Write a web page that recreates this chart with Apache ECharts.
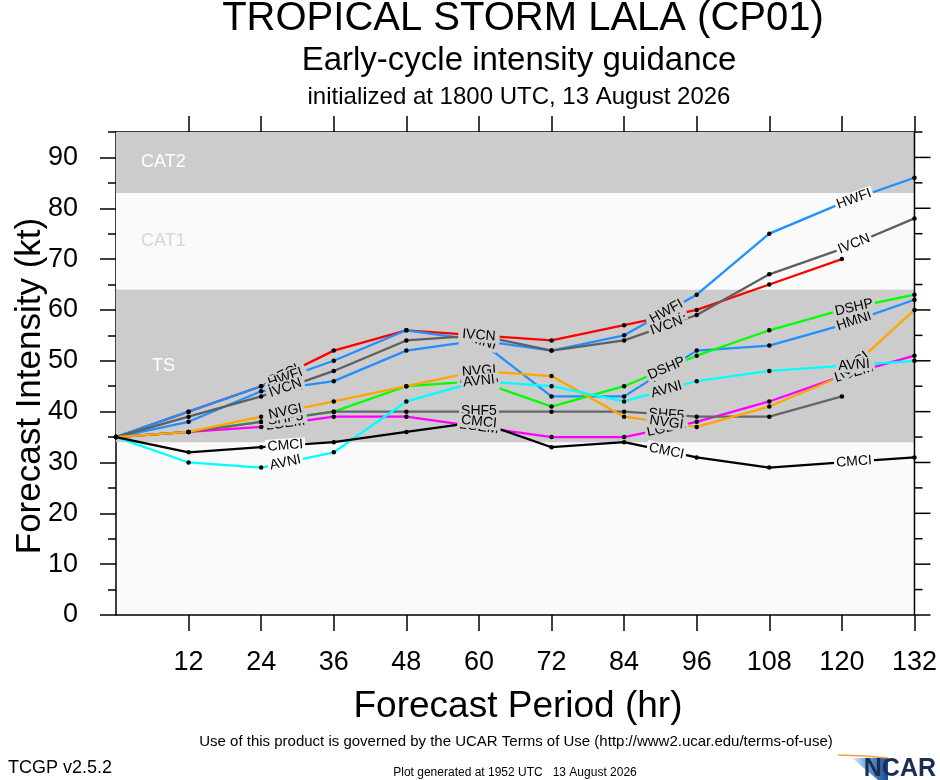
<!DOCTYPE html>
<html><head><meta charset="utf-8">
<script src="https://cdn.jsdelivr.net/npm/echarts@6/dist/echarts.min.js"></script>
<style>html,body{margin:0;padding:0;background:#fff;overflow:hidden}#c{width:940px;height:780px}</style>
</head><body><div id="c"></div>
<script>
// ---- data ----
const HOURS = [0,12,24,36,48,60,72,84,96,108,120,132];
const OFCL = [35,40,45,52,56,55,54,57,60,65,70,null];
const HWFI = [35,40,45,50,56,54,52,55,63,75,81,86];
const HMNI = [35,38,44,46,52,54,43,43,52,53,57,62];
const IVCN = [35,39,43,48,54,55,52,54,59,67,72,78];
const DSHP = [35,36,38,40,45,46,41,45,51,56,60,63];
const LGEM = [35,36,37,39,39,37,35,35,38,42,47,51];
const SHF5 = [35,36,38,40,40,40,40,40,39,39,43,null];
const NVGI = [35,36,39,42,45,48,47,39,37,41,47,60];
const AVNI = [35,30,29,32,42,46,45,42,46,48,49,50];
const CMCI = [35,32,33,34,36,38,33,34,31,29,30,31];
const X_TICKS = [12,24,36,48,60,72,84,96,108,120,132];
const Y_TICKS = [0,10,20,30,40,50,60,70,80,90];
const Y_MAX = 95;
const X_MAX = 132;
const TS_MIN = 34, CAT1_MIN = 64, CAT2_MIN = 83;
const LABEL_HOURS = [28,60,91,122];

// ---- style ----
const FONT = "'Liberation Sans', Arial, Helvetica, sans-serif";
const MODELS = [
  {name:'OFCL', data:OFCL, color:'#ff0000'},
  {name:'HWFI', data:HWFI, color:'#1e90ff'},
  {name:'HMNI', data:HMNI, color:'#1e90ff'},
  {name:'IVCN', data:IVCN, color:'#5f5f5f'},
  {name:'DSHP', data:DSHP, color:'#00ff00'},
  {name:'LGEM', data:LGEM, color:'#ff00ff'},
  {name:'SHF5', data:SHF5, color:'#666666'},
  {name:'NVGI', data:NVGI, color:'#ffa500'},
  {name:'AVNI', data:AVNI, color:'#00ffff'},
  {name:'CMCI', data:CMCI, color:'#000000'}
];

function interp(arr, h){
  for (let i=0;i<HOURS.length-1;i++){
    if (h>=HOURS[i] && h<=HOURS[i+1]){
      const a=arr[i], b=arr[i+1];
      if (a==null||b==null) return null;
      return a+(b-a)*(h-HOURS[i])/(HOURS[i+1]-HOURS[i]);
    }
  }
  return null;
}
function lastHour(arr){ let l=0; arr.forEach((v,i)=>{ if(v!=null) l=HOURS[i]; }); return l; }
function bandColor(v){ return ((v>=TS_MIN && v<CAT1_MIN) || v>=CAT2_MIN) ? '#cccccc' : '#fafafa'; }

const chart = echarts.init(document.getElementById('c'));
const axisLineStyle = {color:'#000', width:1.5};
const noText = () => '';
function xAx(pos, labels){
  return {type:'value', min:0, max:X_MAX, interval:12, position:pos, gridIndex:0,
    axisLine:{show:true, onZero:false, lineStyle:axisLineStyle},
    axisTick:{show:true, inside:false, length:16, customValues:X_TICKS, lineStyle:axisLineStyle},
    axisLabel:labels ? {show:true, customValues:X_TICKS, fontSize:27, margin:34, color:'#000', fontFamily:FONT}
                     : {show:true, customValues:X_TICKS, formatter:noText},
    splitLine:{show:false}};
}
const yAxes = [
  {type:'value', min:0, max:Y_MAX, interval:10, position:'left',
    axisLine:{show:true, onZero:false, lineStyle:axisLineStyle},
    axisTick:{show:true, inside:false, length:16, customValues:Y_TICKS, lineStyle:axisLineStyle},
    axisLabel:{show:true, customValues:Y_TICKS, fontSize:27, margin:38, color:'#000', fontFamily:FONT},
    splitLine:{show:false}},
  {type:'value', min:0, max:Y_MAX, interval:5, position:'left',
    axisLine:{show:false, onZero:false}, axisTick:{show:true, inside:false, length:8, lineStyle:axisLineStyle},
    axisLabel:{show:true, formatter:noText}, splitLine:{show:false}}
];

const bandLabel = {show:true, position:'insideLeft', color:'#ffffff', fontSize:18, fontFamily:FONT};

const lineSeries = MODELS.map((m, idx) => {
  const s = {
    type:'line', name:m.name, xAxisIndex:0, yAxisIndex:0, silent:true,
    data: HOURS.map((h,i)=>[h, m.data[i]]).filter(p=>p[1]!=null),
    symbol:'circle', symbolSize:4.5, showSymbol:true, showAllSymbol:true,
    itemStyle:{color:'#000'}, lineStyle:{color:m.color, width:2.3}, z:2
  };
  if (idx===0) {
    s.markArea = {silent:true, z:1, data:[
      [{yAxis:TS_MIN, name:'TS', itemStyle:{color:'#cccccc'}, label:Object.assign({}, bandLabel, {distance:36})}, {yAxis:CAT1_MIN}],
      [{yAxis:CAT1_MIN, name:'CAT1', itemStyle:{color:'#fafafa'}, label:Object.assign({}, bandLabel, {distance:25, color:'#d6d6d6'})}, {yAxis:CAT2_MIN}],
      [{yAxis:CAT2_MIN, name:'CAT2', itemStyle:{color:'#cccccc'}, label:Object.assign({}, bandLabel, {distance:25})}, {yAxis:Y_MAX}]
    ]};
  }
  return s;
});

const staticGraphic = [
  {type:'text', silent:true, style:{text:'TROPICAL STORM LALA (CP01)', x:523, y:19, align:'center', verticalAlign:'middle', textAlign:'center', textVerticalAlign:'middle', fill:'#000', fontSize:40, fontFamily:FONT}},
  {type:'text', silent:true, style:{text:'Early-cycle intensity guidance', x:519, y:61, align:'center', verticalAlign:'middle', textAlign:'center', textVerticalAlign:'middle', fill:'#000', fontSize:33, fontFamily:FONT}},
  {type:'text', silent:true, style:{text:'initialized at 1800 UTC, 13 August 2026', x:519, y:97, align:'center', verticalAlign:'middle', textAlign:'center', textVerticalAlign:'middle', fill:'#000', fontSize:24, fontFamily:FONT}},
  {type:'text', silent:true, style:{text:'Forecast Period (hr)', x:518, y:707, align:'center', verticalAlign:'middle', textAlign:'center', textVerticalAlign:'middle', fill:'#000', fontSize:37, fontFamily:FONT}},
  {type:'text', silent:true, x:30, y:386, rotation:Math.PI/2, style:{text:'Forecast Intensity (kt)', x:0, y:0, align:'center', verticalAlign:'middle', textAlign:'center', textVerticalAlign:'middle', fill:'#000', fontSize:35, fontFamily:FONT}},
  {type:'text', silent:true, style:{text:'Use of this product is governed by the UCAR Terms of Use (http://www2.ucar.edu/terms-of-use)', x:516, y:742, align:'center', verticalAlign:'middle', textAlign:'center', textVerticalAlign:'middle', fill:'#000', fontSize:15, fontFamily:FONT}},
  {type:'text', silent:true, style:{text:'TCGP v2.5.2', x:8, y:768, align:'left', verticalAlign:'middle', textAlign:'left', textVerticalAlign:'middle', fill:'#000', fontSize:18, fontFamily:FONT}},
  {type:'text', silent:true, style:{text:'Plot generated at 1952 UTC   13 August 2026', x:515, y:773, align:'center', verticalAlign:'middle', textAlign:'center', textVerticalAlign:'middle', fill:'#000', fontSize:12, fontFamily:FONT}},
  {type:'polygon', silent:true, shape:{points:[[852,758],[888,758],[888,780],[878,780]]},
    style:{fill:new echarts.graphic.LinearGradient(0,0,1,0,[{offset:0,color:'#e8f0fa'},{offset:0.45,color:'#5d9bd5'},{offset:1,color:'#1a4a93'}])}},
  {type:'polyline', silent:true, shape:{points:[[838,755],[865,756],[888,758]]}, style:{stroke:'#f0a040', lineWidth:1.5, fill:null}},
  {type:'text', silent:true, style:{text:'NCAR', x:936, y:769, align:'right', verticalAlign:'middle', textAlign:'right', textVerticalAlign:'middle', fill:'#1b2d55', fontSize:25, fontWeight:'bold', fontFamily:FONT}}
];

const option = {
  animation:false,
  backgroundColor:'#ffffff',
  grid:{left:116, right:23, top:132, bottom:165, show:true, backgroundColor:'#fafafa', borderWidth:0},
  xAxis:[xAx('bottom', true), xAx('top', false)],
  yAxis:yAxes,
  series: lineSeries,
  graphic: staticGraphic
};
chart.setOption(option);

const toPx = (x, y) => chart.convertToPixel({xAxisIndex:0, yAxisIndex:0}, [x, y]);

// ---- right-hand frame and outward ticks, positioned through the axis scale ----
const rightGraphic = [];
{
  const b = toPx(X_MAX, 0), t = toPx(X_MAX, Y_MAX);
  rightGraphic.push({type:'line', silent:true, z:100, shape:{x1:b[0], y1:b[1], x2:t[0], y2:t[1]}, style:{stroke:'#000', lineWidth:1.5}});
  Y_TICKS.forEach(v => {
    const p = toPx(X_MAX, v);
    rightGraphic.push({type:'line', silent:true, z:100, shape:{x1:p[0], y1:p[1], x2:p[0]+16, y2:p[1]}, style:{stroke:'#000', lineWidth:1.5}});
    const q = toPx(X_MAX, v + 5);
    rightGraphic.push({type:'line', silent:true, z:100, shape:{x1:q[0], y1:q[1], x2:q[0]+8, y2:q[1]}, style:{stroke:'#000', lineWidth:1.5}});
  });
}

// ---- line labels placed along each model's own line ----
const marks = MODELS.map(m => {
  const end = lastHour(m.data);
  const data = [];
  LABEL_HOURS.forEach(h => {
    if (h > end - 4) return;
    const v = interp(m.data, h);
    const a = interp(m.data, Math.max(0, h-4)), b = interp(m.data, Math.min(end, h+4));
    const p1 = toPx(Math.max(0,h-4), a);
    const p2 = toPx(Math.min(end,h+4), b);
    const ang = -Math.atan2(p2[1]-p1[1], p2[0]-p1[0]) * 180 / Math.PI;
    data.push({coord:[h, v], name:m.name, label:{rotate:ang, backgroundColor:bandColor(v)}});
  });
  return {markPoint:{symbol:'circle', symbolSize:0, silent:true, z:5, data,
    label:{show:true, position:'inside', formatter:'{b}', color:'#000', fontSize:14, fontFamily:FONT, padding:[0,2]}}};
});
chart.setOption({series:marks, graphic: staticGraphic.concat(rightGraphic)});
</script>
</body></html>
